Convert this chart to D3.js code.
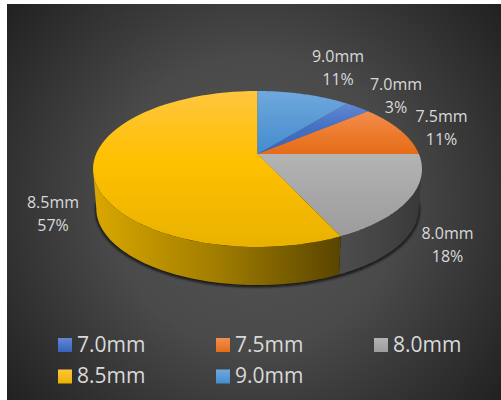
<!DOCTYPE html>
<html>
<head>
<meta charset="utf-8">
<style>
  html, body { margin: 0; padding: 0; background: #fff; }
  svg { display: block; }
  text { font-family: "Open Sans", sans-serif; fill: #d9d9d9; }
</style>
<script src="https://cdn.jsdelivr.net/npm/d3@7"></script>
</head>
<body>
<svg id="chart" width="501" height="400"></svg>
<script>
// Wire diameter shares, in percent
const categories = ["7.0mm", "7.5mm", "8.0mm", "8.5mm", "9.0mm"];
const shares = [3, 11, 18, 57, 11];
const topColors = [
  ["#6487d2", "#4472c4", "#3563bd"],
  ["#f28f50", "#ed7d31", "#e56c18"],
  ["#b4b4b4", "#a8a8a8", "#9c9c9c"],
  ["#ffc63f", "#ffc000", "#e9b200"],
  ["#6fa8de", "#5b9bd5", "#448cd0"]
];
const wallStops = [
  [],
  [],
  ["#4c4c4c", "#444444", "#383838"],
  ["#d9a700", "#a07c00", "#584400"],
  []
];
const labelSpots = [
  { x: 396, y: 90 }, { x: 441.5, y: 122 }, { x: 447.5, y: 239 },
  { x: 53, y: 208 }, { x: 338, y: 62 }
];

const svg = d3.select("#chart");
const defs = svg.append("defs");

// Plot backdrop
const bg = defs.append("radialGradient").attr("id", "backdrop")
  .attr("gradientUnits", "userSpaceOnUse")
  .attr("cx", 254).attr("cy", 202).attr("r", 320);
bg.append("stop").attr("offset", 0).attr("stop-color", "#555555");
bg.append("stop").attr("offset", 0.45).attr("stop-color", "#4a4a4a");
bg.append("stop").attr("offset", 1).attr("stop-color", "#202020");
svg.append("rect").attr("x", 7).attr("y", 4).attr("width", 494).attr("height", 396)
  .attr("fill", "url(#backdrop)");

// Tilted disc: a circle seen in perspective, so the hub sits above the ellipse centre
const perspective = 0.1923;
function project(theta, originY, scale) {
  const w = 1 + perspective * Math.cos(theta);
  return [257.5 + scale * 161.4 * Math.sin(theta) / w,
          originY - scale * 75.1 * Math.cos(theta) / w];
}
const topY = 154, baseY = 194, baseScale = 0.98;
const line = d3.line();
const sweep = (a, b, originY, scale) =>
  d3.range(0, 61).map(i => project(a + (b - a) * i / 60, originY, scale));

// The first slice starts where the last share leaves off, so the 9.0mm slice ends at twelve o'clock
const firstAngle = (shares[4] / d3.sum(shares)) * 2 * Math.PI;
const pie = d3.pie().sort(null)
  .startAngle(firstAngle)
  .endAngle(firstAngle + 2 * Math.PI);
const arcs = pie(shares);

// Each slice shades from its own top edge to its own bottom edge
categories.forEach((c, i) => {
  const g = defs.append("linearGradient").attr("id", "top" + i)
    .attr("x1", 0).attr("y1", 0).attr("x2", 0).attr("y2", 1);
  [0, 0.45, 1].forEach((o, k) => g.append("stop").attr("offset", o).attr("stop-color", topColors[i][k]));
});
wallStops.forEach((stops, i) => {
  if (!stops.length) return;
  const g = defs.append("linearGradient").attr("id", "wall" + i)
    .attr("gradientUnits", "userSpaceOnUse");
  if (i === 3) g.attr("x1", 95).attr("x2", 342);
  else g.attr("x1", 342).attr("x2", 422);
  g.attr("y1", 0).attr("y2", 0);
  stops.forEach((s, k) => g.append("stop").attr("offset", k / 2).attr("stop-color", s));
});

// Soft dark edge under the rim
const blur = defs.append("filter").attr("id", "rimShadow")
  .attr("x", "-10%").attr("y", "-10%").attr("width", "120%").attr("height", "120%");
blur.append("feGaussianBlur").attr("stdDeviation", 1.4);
svg.append("path")
  .attr("d", line(sweep(Math.PI / 2, 1.5 * Math.PI, baseY + 1.5, baseScale + 0.004)) + "Z")
  .attr("fill", "#0a0a0a").attr("filter", "url(#rimShadow)");

// Side wall, visible on the lower half only
const lowerStart = Math.acos(-perspective), lowerEnd = 2 * Math.PI - lowerStart;
arcs.forEach((d, i) => {
  if (!wallStops[i].length) return;
  const a = Math.max(d.startAngle, lowerStart);
  const b = Math.min(d.endAngle, lowerEnd);
  const upper = sweep(a, b, topY, 1);
  const lower = sweep(b, a, baseY, baseScale);
  svg.append("path").attr("d", line(upper.concat(lower)) + "Z")
    .attr("fill", `url(#wall${i})`);
});

// Top face
arcs.forEach((d, i) => {
  const pts = [[257.5, topY]].concat(sweep(d.startAngle, d.endAngle, topY, 1));
  svg.append("path").attr("d", line(pts) + "Z")
    .attr("fill", `url(#top${i})`);
});

// Slice labels
categories.forEach((c, i) => {
  const t = svg.append("text").attr("text-anchor", "middle").attr("font-size", 16);
  t.append("tspan").attr("x", labelSpots[i].x).attr("y", labelSpots[i].y).text(c);
  t.append("tspan").attr("x", labelSpots[i].x).attr("y", labelSpots[i].y + 23).text(shares[i] + "%");
});

// Legend
const legendX = d3.scalePoint().domain([0, 1, 2]).range([58, 374]);
const legendY = d3.scalePoint().domain([0, 1]).range([338, 369.5]);
categories.forEach((c, i) => {
  const col = i % 3, row = Math.floor(i / 3);
  const x = legendX(col), y = legendY(row);
  const g = defs.append("linearGradient").attr("id", "legend" + i)
    .attr("x1", 0).attr("y1", 0).attr("x2", 0).attr("y2", 1);
  g.append("stop").attr("offset", 0).attr("stop-color", topColors[i][0]);
  g.append("stop").attr("offset", 1).attr("stop-color", topColors[i][2]);
  svg.append("rect").attr("x", x).attr("y", y).attr("width", 14).attr("height", 14)
    .attr("fill", `url(#legend${i})`);
  svg.append("text").attr("x", x + 19).attr("y", row ? y + 13 : y + 14).attr("font-size", 21).text(c);
});
</script>
</body>
</html>
